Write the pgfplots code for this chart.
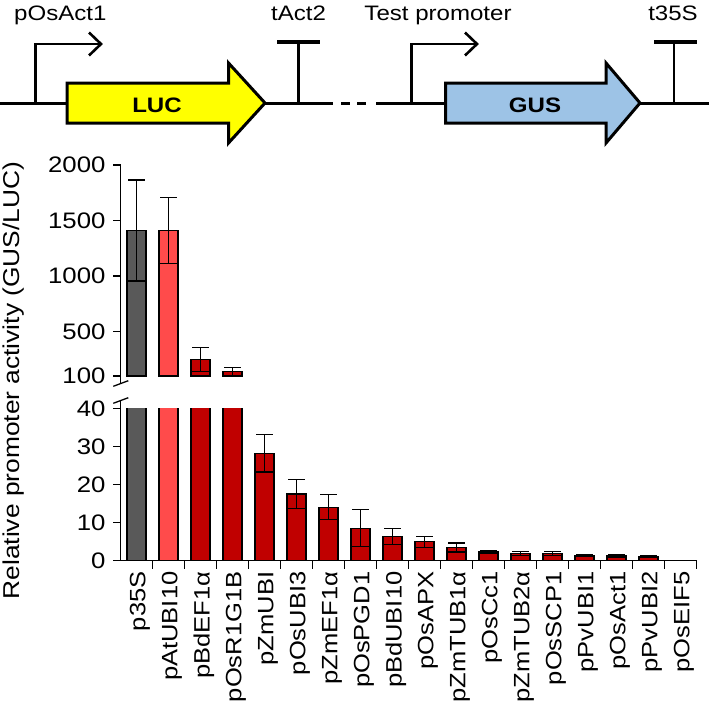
\documentclass[border=0pt]{standalone}
\usepackage{pgfplots}
\usepackage{pgfplotstable}
\pgfplotsset{compat=1.18}
\usepackage{fontspec}
\setmainfont{Liberation Sans}[FakeStretch=1.15]
\definecolor{cgray}{HTML}{595959}
\definecolor{clight}{HTML}{FF4B4B}
\definecolor{cred}{HTML}{C00000}
\definecolor{cluc}{HTML}{FFFF00}
\definecolor{cgus}{HTML}{9DC3E6}

\pgfplotstableread{
x y e
0 1410 455
}\tgray
\pgfplotstableread{
x y e
1 1410 297
}\tlight
\pgfplotstableread{
x y e
2 250 108
3 140 38
}\tredhigh
\pgfplotstableread{
x y e
2 250 108
3 140 38
4 28.2 4.9
5 17.5 3.9
6 14.0 3.3
7 8.5 4.9
8 6.3 2.1
9 4.9 1.4
10 3.4 1.2
11 2.3 0.3
12 1.9 0.5
13 1.9 0.5
14 1.3 0.3
15 1.2 0.3
16 1.0 0.3
17 0.03 0
}\tred

\pgfplotsset{
  common/.style={
    scale only axis, width=576bp,
    xmin=-0.5, xmax=17.5,
    tick align=outside,
    major tick length=7.5bp, minor tick length=8bp,
    axis line style={line width=1.3bp, black},
    every tick/.style={line width=1.3bp, black},
    tick label style={font=\fontsize{22.5}{26}\selectfont},
    yticklabel style={xshift=-4bp},
    /pgf/number format/assume math mode=true,
    /pgf/number format/1000 sep={},
  },
  bars/.style={ybar, bar width=19bp, bar shift=0pt, draw=black, line width=1.1bp,
    error bars/y dir=both, error bars/y explicit,
    error bars/error bar style={line width=1.3bp, black},
    error bars/error mark options={rotate=90, mark size=8.5bp, line width=1.3bp, black}},
}

\begin{document}
\begin{tikzpicture}
\useasboundingbox (0bp,0bp) rectangle (709bp,-703bp);
% ---- schematic ----
\begin{scope}[x=1bp,y=1bp]
\draw[line width=3bp] (0,-103) -- (333,-103);
\draw[line width=3bp] (341,-103) -- (350,-103);
\draw[line width=3bp] (357,-103) -- (366,-103);
\draw[line width=3bp] (376,-103) -- (709,-103);
% promoter 1
\draw[line width=2.6bp] (35.5,-103) -- (35.5,-44) -- (100,-44);
\draw[line width=2.6bp, line join=miter] (89,-32.5) -- (101,-44) -- (89,-55.5);
% terminator 1
\draw[line width=2.6bp] (298.5,-103) -- (298.5,-42);
\draw[line width=3.5bp] (277,-42) -- (320,-42);
% LUC arrow
\filldraw[fill=cluc, draw=black, line width=3bp, line join=miter]
  (67,-83) -- (228.5,-83) -- (228.5,-63) -- (265,-103) -- (228.5,-143) -- (228.5,-123) -- (67,-123) -- cycle;
\node[anchor=base, inner sep=0] at (157,-112) {\fontsize{21}{24}\selectfont\bfseries LUC};
% promoter 2
\draw[line width=2.6bp] (411.5,-103) -- (411.5,-44) -- (476,-44);
\draw[line width=2.6bp, line join=miter] (465,-32.5) -- (477,-44) -- (465,-55.5);
% GUS arrow
\filldraw[fill=cgus, draw=black, line width=3bp, line join=miter]
  (445.5,-83) -- (606,-83) -- (606,-63) -- (640,-103) -- (606,-143) -- (606,-123) -- (445.5,-123) -- cycle;
\node[anchor=base, inner sep=0] at (535,-112) {\fontsize{21}{24}\selectfont\bfseries GUS};
% terminator 2
\draw[line width=2.6bp] (674,-103) -- (674,-42);
\draw[line width=3.5bp] (654,-42) -- (697,-42);
% labels
\node[anchor=base west, inner sep=0] at (14,-20) {\fontsize{21}{26}\selectfont pOsAct1};
\node[anchor=base, inner sep=0] at (298.6,-20) {\fontsize{21}{26}\selectfont tAct2};
\node[anchor=base, inner sep=0] at (438,-20) {\fontsize{21}{26}\selectfont Test promoter};
\node[anchor=base, inner sep=0] at (673,-20) {\fontsize{21}{26}\selectfont t35S};
% y label
\node[rotate=90, anchor=base, inner sep=0] at (19,-380.5) {\fontsize{23}{26}\selectfont Relative promoter activity (GUS/LUC)};
% break marks
\draw[line width=1.3bp] (120.5,-376) -- (120.5,-383.5);
\draw[line width=1.3bp] (120.5,-400) -- (120.5,-408.5);
\draw[line width=1.3bp] (113.3,-386.3) -- (128.3,-380.7);
\draw[line width=1.3bp] (113.3,-403.3) -- (128.3,-397.7);
\end{scope}

% ---- upper axis ----
\begin{axis}[common,
  at={(120.5bp,-376bp)}, anchor=south west, height=211bp,
  ymin=100, ymax=2000,
  axis x line=none, axis y line*=left,
  ytick={100,500,1000,1500,2000},
]
\addplot[bars, fill=cgray] table[x=x, y=y, y error=e] {\tgray};
\addplot[bars, fill=clight] table[x=x, y=y, y error=e] {\tlight};
\addplot[bars, fill=cred] table[x=x, y=y, y error=e] {\tredhigh};
\end{axis}

% ---- lower axis ----
\begin{axis}[common,
  at={(120.5bp,-560.5bp)}, anchor=south west, height=152bp,
  ymin=0, ymax=40,
  axis x line*=bottom, axis y line*=left,
  ytick={0,10,20,30,40},
  xtick={0,...,17},
  xticklabels={p35S,pAtUBI10,pBdEF1α,pOsR1G1B,pZmUBI,pOsUBI3,pZmEF1α,pOsPGD1,pBdUBI10,pOsAPX,pZmTUB1α,pOsCc1,pZmTUB2α,pOsSCP1,pPvUBI1,pOsAct1,pPvUBI2,pOsEIF5},
  xticklabel style={rotate=90, anchor=east, yshift=-3.5bp, font=\fontsize{22.3}{26}\selectfont},
  major x tick style={draw=none},
  minor xtick={0.5,1.5,...,17.5},
]
\addplot[bars, fill=cgray] table[x=x, y=y, y error=e] {\tgray};
\addplot[bars, fill=clight] table[x=x, y=y, y error=e] {\tlight};
\addplot[bars, fill=cred] table[x=x, y=y, y error=e] {\tred};
\end{axis}
\end{tikzpicture}
\end{document}
